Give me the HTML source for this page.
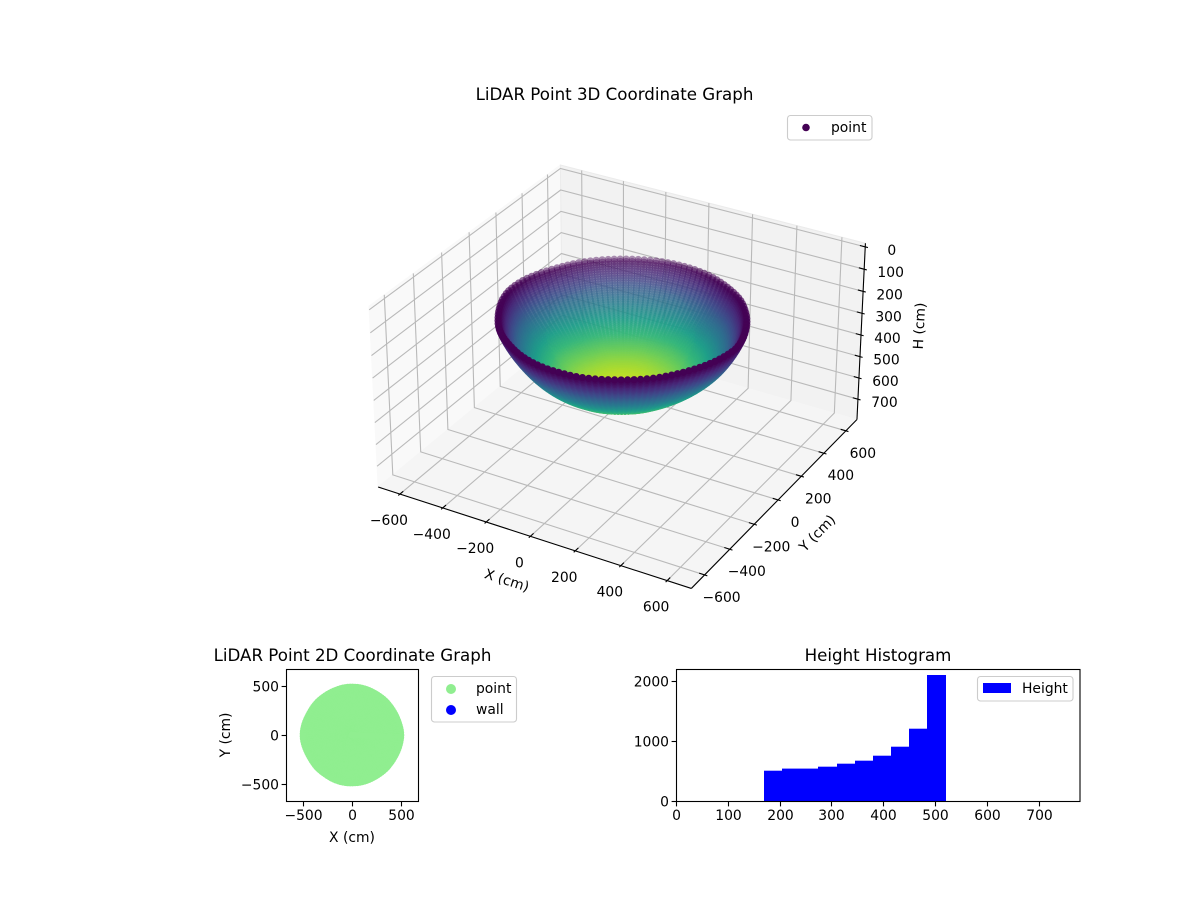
<!DOCTYPE html>
<html lang="en">
<head>
<meta charset="utf-8">
<title>LiDAR Point Graphs</title>
<style>
html,body{margin:0;padding:0;background:#fff;}
svg{display:block;}
text{font-family:"DejaVu Sans","Liberation Sans",sans-serif;fill:#000;}
.t{font-size:13.89px;}
.h{font-size:16.67px;text-anchor:middle;}
</style>
</head>
<body>
<svg id="figure" xmlns="http://www.w3.org/2000/svg" width="1200" height="900" viewBox="0 0 1200 900">
  <rect x="0" y="0" width="1200" height="900" fill="#fff"/>
  <g id="axes3d"></g>
  <g id="axes2d"></g>
  <g id="axesHist"></g>
  <text class="h" x="614.5" y="100">LiDAR Point 3D Coordinate Graph</text>
  <text class="h" x="352.5" y="661">LiDAR Point 2D Coordinate Graph</text>
  <text class="h" x="878" y="661">Height Histogram</text>
  <text class="t" text-anchor="middle" transform="translate(507,580) rotate(17.8)" y="5">X (cm)</text>
  <text class="t" text-anchor="middle" transform="translate(817,533) rotate(-45.5)" y="5">Y (cm)</text>
  <text class="t" text-anchor="middle" transform="translate(919,326) rotate(-87)" y="5">H (cm)</text>
  <text class="t" text-anchor="middle" x="352" y="842">X (cm)</text>
  <text class="t" text-anchor="middle" transform="translate(225,735) rotate(-90)" y="5">Y (cm)</text>
  <g>
    <rect x="787.5" y="115.5" width="84.5" height="24.5" rx="3" fill="#fff" fill-opacity="0.8" stroke="#ccc" stroke-width="1.1"/>
    <circle cx="806" cy="127.5" r="3.8" fill="#440154"/>
    <text class="t" x="831" y="132">point</text>
  </g>
  <g>
    <rect x="431.5" y="676.5" width="85" height="45.5" rx="3" fill="#fff" fill-opacity="0.8" stroke="#ccc" stroke-width="1.1"/>
    <circle cx="451" cy="689" r="5" fill="#90ee90"/>
    <text class="t" x="476" y="693">point</text>
    <circle cx="451" cy="710" r="5" fill="#0000ff"/>
    <text class="t" x="476" y="714">wall</text>
  </g>
  <g>
    <rect x="977.5" y="676.5" width="95.5" height="24.5" rx="3" fill="#fff" fill-opacity="0.8" stroke="#ccc" stroke-width="1.1"/>
    <rect x="983" y="683" width="28" height="10" fill="#0000ff"/>
    <text class="t" x="1022" y="693">Height</text>
  </g>
</svg>
<script>
/* ---------- chart data ---------- */
var xTicks3d = [-600, -400, -200, 0, 200, 400, 600];
var yTicks3d = [-600, -400, -200, 0, 200, 400, 600];
var hTicks3d = [0, 100, 200, 300, 400, 500, 600, 700];
var ticks2d = [-500, 0, 500];
var histXTicks = [0, 100, 200, 300, 400, 500, 600, 700];
var histYTicks = [0, 1000, 2000];
var histEdges = [170, 205, 240, 275, 310, 345, 380, 415, 450, 485, 521];
var histCounts = [505, 540, 540, 572, 622, 672, 755, 905, 1205, 2100];

/* horizontal distance from the scanner axis of each sampled ring */
var ringRadius = [0, 9.7, 19.5, 29.2, 38.9, 48.6, 58.3, 67.9, 77.6, 87.2, 96.8, 106.4, 115.9, 125.4, 134.8, 144.2, 153.6, 162.9, 172.2, 181.4, 190.5, 199.6, 208.6, 217.6, 226.5, 235.3, 244.1, 252.7, 261.3, 269.8, 278.2, 286.6, 294.8, 302.9, 311.0, 319.0, 326.7, 334.5, 342.1, 349.7, 357.2, 364.4, 371.6, 378.7, 385.7, 392.4, 399.1, 405.7, 412.3, 418.6, 424.8, 430.8, 436.8, 442.5, 448.2, 453.7, 459.0, 464.2, 469.3, 474.2, 479.0, 483.6, 488.1, 492.4, 496.5, 500.5, 504.4, 508.0];
/* height value of each sampled ring */
var ringHeight = [520, 519.9, 519.7, 519.2, 518.6, 517.8, 516.9, 515.8, 514.5, 513.0, 511.4, 509.6, 507.6, 505.4, 503.1, 500.6, 498.0, 495.2, 492.2, 489.0, 485.7, 482.2, 478.6, 474.8, 470.8, 466.8, 462.5, 458.1, 453.5, 448.7, 443.9, 438.9, 433.7, 428.4, 422.9, 417.3, 411.6, 405.7, 399.7, 393.5, 387.2, 380.8, 374.2, 367.5, 360.7, 353.9, 346.9, 339.7, 332.3, 324.9, 317.4, 309.8, 302.1, 294.2, 286.3, 278.3, 270.2, 262.0, 253.7, 245.2, 236.7, 228.1, 219.4, 210.8, 202.0, 193.1, 184.2, 175.2];
/* bearing of each scan ray, degrees */
var rayAzimuth = [0, 2.88, 5.76, 8.64, 11.52, 14.4, 17.28, 20.16, 23.04, 25.92, 28.8, 31.68, 34.56, 37.44, 40.32, 43.2, 46.08, 48.96, 51.84, 54.72, 57.6, 60.48, 63.36, 66.24, 69.12, 72, 74.88, 77.76, 80.64, 83.52, 86.4, 89.28, 92.16, 95.04, 97.92, 100.8, 103.68, 106.56, 109.44, 112.32, 115.2, 118.08, 120.96, 123.84, 126.72, 129.6, 132.48, 135.36, 138.24, 141.12, 144, 146.88, 149.76, 152.64, 155.52, 158.4, 161.28, 164.16, 167.04, 169.92, 172.8, 175.68, 178.56, 181.44, 184.32, 187.2, 190.08, 192.96, 195.84, 198.72, 201.6, 204.48, 207.36, 210.24, 213.12, 216, 218.88, 221.76, 224.64, 227.52, 230.4, 233.28, 236.16, 239.04, 241.92, 244.8, 247.68, 250.56, 253.44, 256.32, 259.2, 262.08, 264.96, 267.84, 270.72, 273.6, 276.48, 279.36, 282.24, 285.12, 288, 290.88, 293.76, 296.64, 299.52, 302.4, 305.28, 308.16, 311.04, 313.92, 316.8, 319.68, 322.56, 325.44, 328.32, 331.2, 334.08, 336.96, 339.84, 342.72, 345.6, 348.48, 351.36, 354.24, 357.12];
/* outward reach of each scan ray, relative to the ring radius */
var rayReach = [0.985, 0.983, 0.98, 0.976, 0.972, 0.968, 0.965, 0.962, 0.96, 0.958, 0.957, 0.956, 0.955, 0.955, 0.956, 0.957, 0.958, 0.958, 0.957, 0.956, 0.955, 0.955, 0.956, 0.958, 0.96, 0.962, 0.964, 0.965, 0.966, 0.966, 0.966, 0.966, 0.966, 0.966, 0.965, 0.964, 0.962, 0.96, 0.958, 0.957, 0.956, 0.955, 0.955, 0.955, 0.955, 0.956, 0.957, 0.958, 0.958, 0.958, 0.958, 0.957, 0.957, 0.958, 0.96, 0.963, 0.967, 0.971, 0.975, 0.979, 0.982, 0.984, 0.985, 0.985, 0.984, 0.981, 0.977, 0.973, 0.968, 0.964, 0.96, 0.957, 0.955, 0.954, 0.954, 0.955, 0.956, 0.957, 0.957, 0.956, 0.955, 0.954, 0.954, 0.955, 0.957, 0.96, 0.962, 0.964, 0.966, 0.967, 0.968, 0.968, 0.968, 0.967, 0.966, 0.966, 0.967, 0.967, 0.966, 0.964, 0.962, 0.96, 0.958, 0.956, 0.955, 0.955, 0.955, 0.956, 0.957, 0.958, 0.958, 0.957, 0.956, 0.956, 0.957, 0.958, 0.96, 0.962, 0.965, 0.968, 0.971, 0.974, 0.977, 0.98, 0.983];

var viridisStops = ['#440154', '#482878', '#3e4989', '#31688e', '#26828e', '#1f9e89', '#35b779', '#6ece58', '#b5de2b', '#fde725'];
var colorTop = 546;

/* ---------- helpers ---------- */
var NS = 'http://www.w3.org/2000/svg';
var g3 = document.getElementById('axes3d');
var g2 = document.getElementById('axes2d');
var gh = document.getElementById('axesHist');

function mk(tag, parent) {
  var el = document.createElementNS(NS, tag);
  parent.appendChild(el);
  return el;
}
function line(parent, x1, y1, x2, y2, stroke, width) {
  var el = mk('line', parent);
  el.setAttribute('x1', x1);
  el.setAttribute('y1', y1);
  el.setAttribute('x2', x2);
  el.setAttribute('y2', y2);
  el.setAttribute('stroke', stroke);
  el.setAttribute('stroke-width', width);
  return el;
}
function label(parent, x, y, anchor, str) {
  var el = mk('text', parent);
  el.setAttribute('class', 't');
  el.setAttribute('x', x);
  el.setAttribute('y', y);
  el.setAttribute('text-anchor', anchor);
  el.textContent = str;
  return el;
}
function fmt(v) { return v < 0 ? '\u2212' + (-v) : String(v); }
function hex(c) { return [parseInt(c.substr(1, 2), 16), parseInt(c.substr(3, 2), 16), parseInt(c.substr(5, 2), 16)]; }
function viridis(t) {
  t = Math.max(0, Math.min(1, t));
  var p = t * (viridisStops.length - 1), i = Math.min(Math.floor(p), viridisStops.length - 2), f = p - i;
  var a = hex(viridisStops[i]), b = hex(viridisStops[i + 1]);
  return 'rgb(' + Math.round(a[0] + (b[0] - a[0]) * f) + ',' + Math.round(a[1] + (b[1] - a[1]) * f) + ',' + Math.round(a[2] + (b[2] - a[2]) * f) + ')';
}

/* ---------- 3D axis functions ---------- */
var K = 0.000887, S3 = 2860, CX = 622.2, CY = 364.9;
var XE = 703.1, YE = 703.1, ZB = 796.25, ZT = -16.25;
function project(x, y, z) {
  var dx = x * K, dy = y * K, dz = (390 - z) * K;
  var u = 0.8660 * dx + 0.5 * dy;
  var v = -0.25 * dx + 0.4330 * dy + 0.8660 * dz;
  var w = 0.4330 * dx - 0.75 * dy + 0.5 * dz;
  var depth = 10 - w;
  return { px: CX + S3 * u / depth, py: CY - S3 * v / depth, depth: depth };
}
function poly3(parent, pts, fill, stroke) {
  var el = mk('polygon', parent);
  el.setAttribute('points', pts.map(function (p) { var q = project(p[0], p[1], p[2]); return q.px.toFixed(2) + ',' + q.py.toFixed(2); }).join(' '));
  el.setAttribute('fill', fill);
  el.setAttribute('stroke', stroke);
  el.setAttribute('stroke-width', '1');
  return el;
}
function path3(parent, pts, stroke, width) {
  var el = mk('polyline', parent);
  el.setAttribute('points', pts.map(function (p) { var q = project(p[0], p[1], p[2]); return q.px.toFixed(2) + ',' + q.py.toFixed(2); }).join(' '));
  el.setAttribute('fill', 'none');
  el.setAttribute('stroke', stroke);
  el.setAttribute('stroke-width', width);
  return el;
}

/* panes */
var pane = poly3(g3, [[-XE, -YE, ZB], [-XE, YE, ZB], [-XE, YE, ZT], [-XE, -YE, ZT]], '#f9f9f9', '#f9f9f9');


pane = poly3(g3, [[-XE, YE, ZB], [XE, YE, ZB], [XE, YE, ZT], [-XE, YE, ZT]], '#f2f2f2', '#ebebeb');


pane = poly3(g3, [[-XE, -YE, ZB], [XE, -YE, ZB], [XE, YE, ZB], [-XE, YE, ZB]], '#f5f5f5', '#f5f5f5');



/* gridlines */
var GRID = '#b9b9b9', GW = 1.1, el, i, j, a, b;
xTicks3d.forEach(function (t) {
  var e = path3(g3, [[t, -YE, ZB], [t, YE, ZB], [t, YE, ZT]], GRID, GW);
  
  
});
yTicks3d.forEach(function (t) {
  var e = path3(g3, [[XE, t, ZB], [-XE, t, ZB], [-XE, t, ZT]], GRID, GW);
  
  
});
hTicks3d.forEach(function (t) {
  var e = path3(g3, [[-XE, -YE, t], [-XE, YE, t], [XE, YE, t]], GRID, GW);
  
  
});

/* axis lines */
el = path3(g3, [[-XE, -YE, ZB], [XE, -YE, ZB]], '#000', 1.1);


el = path3(g3, [[XE, -YE, ZB], [XE, YE, ZB]], '#000', 1.1);


el = path3(g3, [[XE, YE, ZB], [XE, YE, ZT]], '#000', 1.1);



/* ticks and tick labels */
var TO = 11.7, TI = 23.4;
xTicks3d.forEach(function (t) {
  var e = path3(g3, [[t, -YE - TO, ZB], [t, -YE + TI, ZB]], '#000', 1.1);
  
  
  var p = project(t, -YE, ZB);
  var l = label(g3, p.px - 11, p.py + 31, 'middle', fmt(t));
  
  
});
yTicks3d.forEach(function (t) {
  var e = path3(g3, [[XE + TO, t, ZB], [XE - TI, t, ZB]], '#000', 1.1);
  
  
  var p = project(XE, t, ZB);
  var l = label(g3, p.px + 17, p.py + 27, 'middle', fmt(t));
  
  
});
hTicks3d.forEach(function (t) {
  var e = path3(g3, [[XE + TO, YE, t], [XE - TI, YE, t]], '#000', 1.1);
  
  
  var p = project(XE, YE, t);
  var l = label(g3, p.px + 26.5, p.py + 8, 'middle', fmt(t));
  
  
});

/* scatter: every ring crossed with every ray */
var samples = [];
for (i = 0; i < rayAzimuth.length; i++) {
  a = rayAzimuth[i] * Math.PI / 180;
  for (j = 0; j < ringRadius.length; j++) {
    b = ringRadius[j] * rayReach[i];
    samples.push({ x: b * Math.cos(a), y: b * Math.sin(a), z: ringHeight[j] });
  }
}
var zMin = Math.min.apply(null, ringHeight);
var dMin = Infinity, dMax = -Infinity;
var proj = samples.map(function (s) {
  var p = project(s.x, s.y, s.z);
  if (p.depth < dMin) dMin = p.depth;
  if (p.depth > dMax) dMax = p.depth;
  return { p: p, z: s.z };
});
proj.sort(function (m, n) { return n.p.depth - m.p.depth; });
var gPts = mk('g', g3);


proj.forEach(function (m) {
  var c = mk('circle', gPts);
  
  
  c.setAttribute('cx', m.p.px.toFixed(2));
  c.setAttribute('cy', m.p.py.toFixed(2));
  c.setAttribute('r', '3.6');
  c.setAttribute('fill', viridis((m.z - zMin) / (colorTop - zMin)));
  var shade = 1 - 0.7 * (m.p.depth - dMin) / (dMax - dMin);
  c.setAttribute('fill-opacity', (1 - Math.pow(1 - shade, 1.5)).toFixed(3));
});

/* ---------- 2D scatter ---------- */
function x2d(v) { return 352 + v * 0.0978; }
function y2d(v) { return 735 - v * 0.0978; }
var gPts2 = mk('g', g2);


samples.forEach(function (s) {
  var c = mk('circle', gPts2);
  
  
  c.setAttribute('cx', x2d(s.x).toFixed(2));
  c.setAttribute('cy', y2d(s.y).toFixed(2));
  c.setAttribute('r', '3.4');
  c.setAttribute('fill', '#90ee90');
});
el = mk('rect', g2);


el.setAttribute('x', 286.5);
el.setAttribute('y', 669.5);
el.setAttribute('width', 132);
el.setAttribute('height', 132);
el.setAttribute('fill', 'none');
el.setAttribute('stroke', '#000');
el.setAttribute('stroke-width', 1.1);
ticks2d.forEach(function (t) {
  var px = Math.round(x2d(t)) + 0.5;
  var e = line(g2, px, 801.5, px, 806.4, '#000', 1.1);
  
  
  var l = label(g2, px, 820, 'middle', fmt(t));
  
  
  var py = Math.round(y2d(t)) + 0.5;
  e = line(g2, 286.5, py, 281.6, py, '#000', 1.1);
  
  
  l = label(g2, 279, py + 5, 'end', fmt(t));
  
  
});

/* ---------- histogram ---------- */
function xHist(v) { return 676 + v * 0.518; }
function yHist(v) { return 801 - v * 0.06; }
histCounts.forEach(function (c, k) {
  var r = mk('rect', gh);
  
  
  var left = Math.round(xHist(histEdges[k]));
  var right = Math.round(xHist(histEdges[k + 1]));
  r.setAttribute('x', left);
  r.setAttribute('y', yHist(c));
  r.setAttribute('width', right - left);
  r.setAttribute('height', yHist(0) - yHist(c));
  r.setAttribute('fill', '#0000ff');
});
el = mk('rect', gh);


el.setAttribute('x', 676.5);
el.setAttribute('y', 669.5);
el.setAttribute('width', 403.5);
el.setAttribute('height', 132);
el.setAttribute('fill', 'none');
el.setAttribute('stroke', '#000');
el.setAttribute('stroke-width', 1.1);
histXTicks.forEach(function (t) {
  var px = Math.round(xHist(t)) + 0.5;
  var e = line(gh, px, 801.5, px, 806.4, '#000', 1.1);
  
  
  var l = label(gh, px, 820, 'middle', fmt(t));
  
  
});
histYTicks.forEach(function (t) {
  var py = Math.round(yHist(t)) + 0.5;
  var e = line(gh, 676.5, py, 671.6, py, '#000', 1.1);
  
  
  var l = label(gh, 669, py + 5, 'end', fmt(t));
  
  
});
</script>
</body>
</html>
